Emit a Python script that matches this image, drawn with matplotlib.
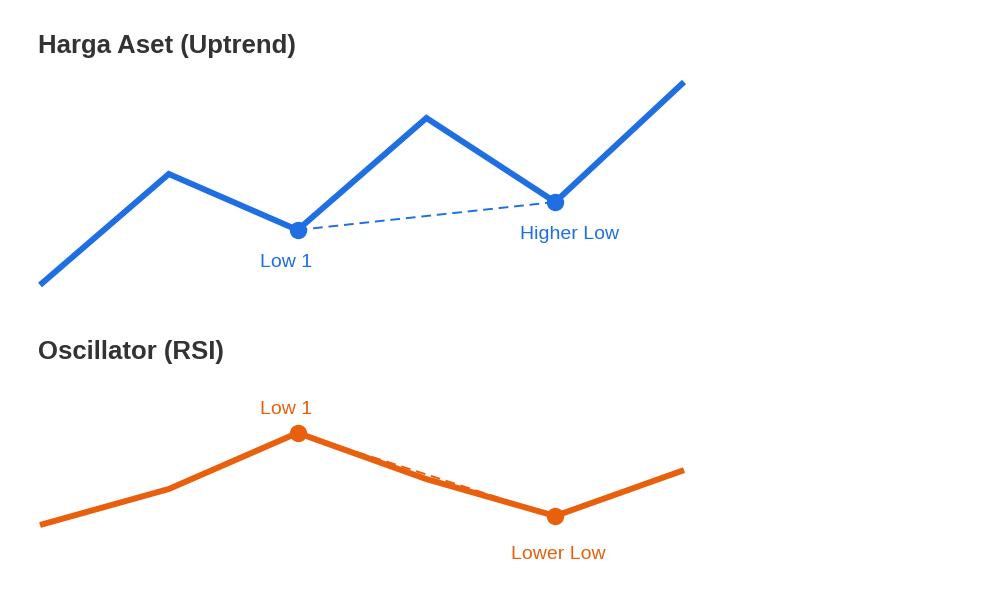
import matplotlib.pyplot as plt

# data
steps = [0, 1, 2, 3, 4, 5]
harga = [20, 75.5, 47.5, 103.5, 61.5, 121.5]
rsi = [35, 47, 65.7, 50.3, 38, 53.3]

idx_low1 = 2
idx_low2 = 4

title_harga = 'Harga Aset (Uptrend)'
title_rsi = 'Oscillator (RSI)'
label_harga = ['Low 1', 'Higher Low']
label_rsi = ['Low 1', 'Lower Low']

biru = '#1f6fe3'
oranye = '#e8600e'
abu = '#333333'

plt.rcParams['font.family'] = ['Liberation Sans', 'DejaVu Sans']

W, H = 1000, 598
fig = plt.figure(figsize=(W / 100, H / 100), dpi=100)

# x: step 0 -> px 40, step 5 -> px 684
x0, x1 = 40, 684
ppu = (x1 - x0) / 5
xlim = (-x0 / ppu, (W - x0) / ppu)


def buat_ax(top_px, bot_px, ylim):
    ax = fig.add_axes([0, (H - bot_px) / H, 1, (bot_px - top_px) / H])
    ax.set_xlim(*xlim)
    ax.set_ylim(*ylim)
    ax.axis('off')
    return ax


# panel atas
ax1 = buat_ax(60, 310, (7.5, 132.5))
ax1.plot(steps, harga, color=biru, lw=4.3, solid_joinstyle='miter',
         solid_capstyle='butt', zorder=2)
ax1.plot([steps[idx_low1], steps[idx_low2]], [harga[idx_low1], harga[idx_low2]],
         color=biru, lw=1.4, ls=(0, (5, 3)), zorder=1)
ax1.plot([steps[idx_low1], steps[idx_low2]], [harga[idx_low1], harga[idx_low2]],
         'o', color=biru, ms=11.5, zorder=3)
ax1.annotate(label_harga[0], (steps[idx_low1], harga[idx_low1]), xytext=(-8, -23.5),
             textcoords='offset points', ha='center', va='center', color=biru, fontsize=14)
ax1.annotate(label_harga[1], (steps[idx_low2], harga[idx_low2]), xytext=(10, -23.5),
             textcoords='offset points', ha='center', va='center', color=biru, fontsize=14)
fig.text(38 / W, 1 - 46.5 / H, title_harga, fontsize=18.5, fontweight='bold',
         color=abu, ha='left', va='center')

# panel bawah
ax2 = buat_ax(390, 580, (16.67, 80))
ax2.plot(steps, rsi, color=oranye, lw=4.3, solid_joinstyle='miter',
         solid_capstyle='butt', zorder=2)
ax2.plot([steps[idx_low1], steps[idx_low2]], [rsi[idx_low1], rsi[idx_low2]],
         color=oranye, lw=1.4, ls=(0, (5, 3)), zorder=1)
ax2.plot([steps[idx_low1], steps[idx_low2]], [rsi[idx_low1], rsi[idx_low2]],
         'o', color=oranye, ms=11.5, zorder=3)
ax2.annotate(label_rsi[0], (steps[idx_low1], rsi[idx_low1]), xytext=(-8, 16.5),
             textcoords='offset points', ha='center', va='center', color=oranye, fontsize=14)
ax2.annotate(label_rsi[1], (steps[idx_low2], rsi[idx_low2]), xytext=(2, -27.5),
             textcoords='offset points', ha='center', va='center', color=oranye, fontsize=14)
fig.text(38 / W, 1 - 352.5 / H, title_rsi, fontsize=18.5, fontweight='bold',
         color=abu, ha='left', va='center')

fig.savefig('out.png', dpi=100, facecolor='white')
